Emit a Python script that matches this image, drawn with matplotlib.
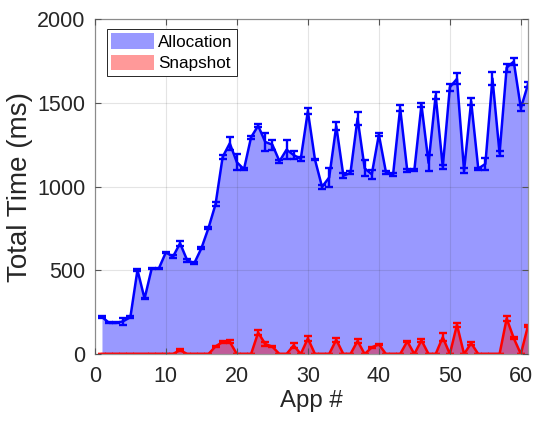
import numpy as np
import matplotlib
matplotlib.use('Agg')
from matplotlib import pyplot as plt

plt.rcParams['font.family'] = ['Liberation Sans', 'DejaVu Sans']

apps = list(range(1, 62))

alloc_mean = [222, 186, 186, 196, 220, 502, 331, 510, 510, 607,
              581, 661, 560, 542, 631, 752, 895, 1177, 1258, 1145,
              1103, 1294, 1363, 1266, 1250, 1151, 1220, 1188, 1165, 1450,
              1161, 998, 1054, 1361, 1065, 1081, 1407, 1109, 1073, 1310,
              1085, 1071, 1468, 1095, 1099, 1488, 1141, 1544, 1117, 1593,
              1643, 1095, 1508, 1107, 1135, 1645, 1198, 1710, 1746, 1468,
              1609]
alloc_std = [5, 3, 3, 22, 7, 8, 5, 5, 4, 4,
             10, 16, 10, 6, 6, 4, 12, 12, 37, 48,
             6, 9, 9, 56, 29, 9, 57, 24, 14, 16,
             5, 12, 56, 22, 14, 9, 37, 47, 27, 9,
             8, 9, 19, 10, 7, 11, 49, 22, 12, 22,
             32, 14, 19, 6, 34, 37, 14, 24, 21, 19,
             16]

snap_mean = [0, 0, 0, 0, 0, 0, 0, 0, 0, 0,
             0, 24, 0, 0, 0, 0, 46, 72, 73, 0,
             0, 0, 128, 60, 44, 0, 0, 52, 0, 93,
             0, 0, 0, 85, 0, 0, 78, 0, 40, 58,
             0, 0, 0, 76, 0, 82, 0, 0, 100, 0,
             175, 0, 65, 0, 0, 0, 0, 212, 95, 0,
             168]
snap_std = [0, 0, 0, 0, 0, 0, 0, 0, 0, 0,
            0, 4, 0, 0, 0, 0, 5, 8, 10, 0,
            0, 0, 15, 12, 4, 0, 0, 14, 0, 15,
            0, 0, 0, 12, 0, 0, 10, 0, 4, 4,
            0, 0, 0, 4, 0, 8, 0, 0, 25, 0,
            12, 0, 8, 0, 0, 0, 0, 15, 4, 0,
            4]

fig = plt.figure(figsize=(5.36, 4.23), dpi=100)
ax = fig.add_axes([0.177, 0.163, 0.808, 0.792])

h1 = ax.fill_between(apps, alloc_mean, color=(0, 0, 1), alpha=0.4, linewidth=0, label='Allocation')
ax.errorbar(apps, alloc_mean, yerr=alloc_std, color=(0, 0, 1), lw=1.8,
            capsize=3.2, capthick=1.7, elinewidth=1.7)
h2 = ax.fill_between(apps, snap_mean, color=(1, 0, 0), alpha=0.4, linewidth=0, label='Snapshot')
ax.errorbar(apps, snap_mean, yerr=snap_std, color=(1, 0, 0), lw=1.8,
            capsize=3.2, capthick=1.7, elinewidth=1.7)

ax.set_xlim(0, 61)
ax.set_ylim(0, 2000)
ax.set_xticks(range(0, 61, 10))
ax.set_yticks(range(0, 2001, 500))
ax.grid(True, color='#262626', alpha=0.12, lw=0.8)
ax.set_axisbelow(False)
ax.tick_params(direction='in', top=True, right=True, labelsize=15.5,
               color='#555555', length=4, width=0.8, labelcolor='#262626')
ax.tick_params(axis='x', pad=8.5)
ax.tick_params(axis='y', pad=7)
for s in ax.spines.values():
    s.set_color('#999999')
    s.set_linewidth(0.9)

ax.set_xlabel('App #', fontsize=17.3, color='#262626', labelpad=2)
ax.set_ylabel('Total Time (ms)', fontsize=20, color='#262626', labelpad=3)

leg = ax.legend(handles=[h1, h2], loc='upper left', bbox_to_anchor=(12 / 433, 1 - 10 / 335),
                borderaxespad=0, fontsize=12.3, fancybox=False,
                edgecolor='#262626', framealpha=1, handlelength=2.5, handleheight=1.0,
                borderpad=0.25, labelspacing=0.3, handletextpad=0.25)
leg.get_frame().set_linewidth(0.7)

fig.savefig('out.png', dpi=100)
